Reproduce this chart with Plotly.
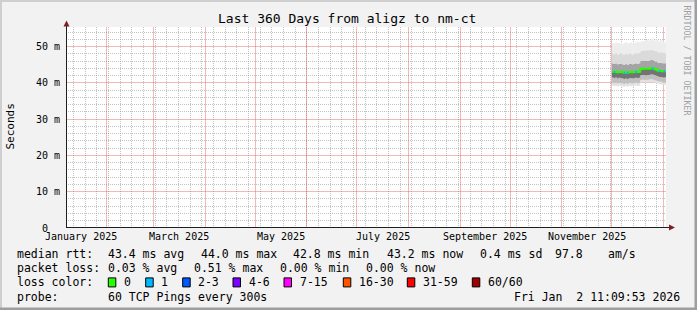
import plotly.graph_objects as go

# ---------------- data ----------------
start_time = "2025-01-07 11:09:53"
end_time = "2026-01-02 11:09:53"

days = ["2025-12-01", "2025-12-02", "2025-12-03", "2025-12-04", "2025-12-05", "2025-12-06",
        "2025-12-07", "2025-12-08", "2025-12-09", "2025-12-10", "2025-12-11", "2025-12-12",
        "2025-12-13", "2025-12-14", "2025-12-15", "2025-12-16", "2025-12-17", "2025-12-18",
        "2025-12-19", "2025-12-20", "2025-12-21", "2025-12-22", "2025-12-23", "2025-12-24",
        "2025-12-25", "2025-12-26", "2025-12-27", "2025-12-28", "2025-12-29", "2025-12-30",
        "2025-12-31", "2026-01-01", "2026-01-02"]

median = [43.1, 43.0, 43.1, 42.9, 43.0, 43.0, 42.9, 42.8, 42.9, 42.8, 43.0, 43.0, 42.9, 43.0,
          43.1, 43.0, 43.1, 43.8, 43.9, 43.9, 43.9, 43.9, 43.9, 44.0, 44.0, 43.9, 43.7, 43.5,
          43.3, 43.3, 43.2, 43.2, 43.2]
loss = [0, 1, 0, 0, 0, 0, 0, 1, 0, 1, 0, 0, 0, 0, 1, 0, 0, 0, 0, 0, 0, 0, 0, 0, 1, 0, 0, 0,
        1, 0, 0, 1, 0]

smoke_max = [51.0, 50.8, 51.2, 50.9, 51.0, 51.1, 50.7, 51.0, 51.3, 50.9, 51.0, 51.2, 50.8, 51.0,
             51.1, 51.5, 51.2, 51.4, 51.6, 51.5, 51.8, 52.0, 51.6, 51.9, 52.3, 51.7, 52.0, 51.8,
             51.5, 51.8, 51.6, 51.4, 51.0]
smoke_p90 = [48.1, 47.9, 48.2, 47.8, 48.0, 48.1, 47.9, 47.8, 48.0, 47.9, 48.1, 48.0, 47.8, 48.0,
             48.2, 48.1, 48.2, 48.8, 48.9, 49.0, 48.9, 49.1, 49.0, 49.2, 49.1, 48.9, 48.8, 48.6,
             48.4, 48.5, 48.3, 48.2, 48.1]
smoke_p75 = [45.4, 45.2, 45.4, 45.1, 45.3, 45.3, 45.1, 45.0, 45.2, 45.0, 45.3, 45.2, 45.1, 45.3,
             45.4, 45.3, 45.4, 46.0, 46.2, 46.1, 46.2, 46.1, 46.2, 46.3, 46.3, 46.1, 45.9, 45.7,
             45.5, 45.6, 45.4, 45.4, 45.4]
smoke_p25 = [41.5, 41.3, 41.5, 41.2, 41.4, 41.3, 41.2, 41.1, 41.2, 41.0, 41.3, 41.3, 41.2, 41.3,
             41.4, 41.3, 41.4, 42.1, 42.2, 42.2, 42.1, 42.2, 42.2, 42.3, 42.3, 42.2, 42.0, 41.8,
             41.6, 41.6, 41.5, 41.5, 41.5]
smoke_p10 = [40.1, 39.9, 40.0, 39.8, 40.0, 39.9, 39.8, 39.7, 39.9, 39.7, 40.0, 39.9, 39.8, 40.0,
             40.1, 39.9, 40.0, 40.8, 40.9, 40.8, 40.9, 40.8, 40.9, 41.0, 40.9, 40.8, 40.6, 40.5,
             40.3, 40.3, 40.2, 40.2, 40.1]
smoke_min = [39.3, 39.1, 39.2, 39.0, 39.2, 39.1, 39.0, 38.9, 39.1, 38.9, 39.2, 39.1, 39.0, 39.2,
             39.3, 39.1, 39.2, 40.0, 40.2, 40.1, 40.2, 40.1, 40.2, 40.3, 40.2, 40.1, 39.9, 39.8,
             39.6, 39.6, 39.5, 39.5, 39.4]

x_labels = ["January 2025", "March 2025", "May 2025", "July 2025", "September 2025", "November 2025"]
x_label_pos = ["2025-01-16 12:00", "2025-03-16 12:00", "2025-05-16 12:00", "2025-07-16 12:00",
               "2025-09-16 00:00", "2025-11-16 00:00"]
y_ticks = [0, 10, 20, 30, 40, 50]
y_ticktext = ["0  ", "10 m", "20 m", "30 m", "40 m", "50 m"]

rtt_stats = [43.4, 44.0, 42.8, 43.2]     # avg, max, min, now (ms)
rtt_sd = 0.4
rtt_ams = 97.8
loss_stats = [0.03, 0.51, 0.00, 0.00]    # avg, max, min, now (%)
loss_labels = ["0", "1", "2-3", "4-6", "7-15", "16-30", "31-59", "60/60"]
loss_colors = ["#26ff00", "#00b8ff", "#0059ff", "#7e00ff", "#ff00ff", "#ff5500", "#ff0000", "#a10000"]

# ---------------- geometry ----------------
W, H = 697, 310
PL, PR, PT, PB = 66, 666, 27, 228
Y_MAX = 55.4
MONO = "DejaVu Sans Mono"


def px(x):
    return (x - PL) / (PR - PL)


def py(y):
    return (PB - y) / (PB - PT)


def nb(s):
    return s.replace(" ", "\u00a0")


x_edges = days + [end_time]


def step(v):
    return v + [v[-1]]


fig = go.Figure()

# smoke bands
bands = [(smoke_min, None), (smoke_p10, "#e2e2e2"), (smoke_p25, "#c0c0c0"), (median, "#747474"),
         (smoke_p75, "#a4a4a4"), (smoke_p90, "#dadada"), (smoke_max, "#ededed")]
for vals, col in bands:
    fig.add_trace(go.Scatter(x=x_edges, y=step(vals), mode="lines", line=dict(width=0, shape="hv"),
                             fill="tonexty" if col else None, fillcolor=col, hoverinfo="skip"))

# median line coloured by loss
fig.add_trace(go.Scatter(x=x_edges, y=step(median), mode="lines",
                         line=dict(width=2, shape="hv", color=loss_colors[0]), hoverinfo="skip"))
for lvl in range(1, len(loss_colors)):
    sx, sy = [], []
    for i, l in enumerate(loss):
        if l == lvl:
            sx += [x_edges[i], x_edges[i + 1], None]
            sy += [median[i], median[i], None]
    if sx:
        fig.add_trace(go.Scatter(x=sx, y=sy, mode="lines", line=dict(width=2, color=loss_colors[lvl]),
                                 hoverinfo="skip"))

# invisible trace to instantiate the overlay axis carrying the monthly grid
fig.add_trace(go.Scatter(x=[end_time], y=[0], xaxis="x2", mode="markers",
                         marker=dict(opacity=0), hoverinfo="skip"))

grid_minor = "rgba(143,143,143,0.55)"
grid_major = "rgba(222,79,79,0.4)"

fig.update_layout(
    width=W, height=H, margin=dict(l=PL, r=W - PR, t=PT, b=H - PB),
    paper_bgcolor="#f2f2f2", plot_bgcolor="#ffffff", showlegend=False,
    font=dict(family=MONO, size=10, color="#000000"),
    xaxis=dict(type="date", range=[start_time, end_time], showgrid=True, dtick=7 * 86400000,
               tick0="2025-01-05", gridcolor=grid_minor, griddash="1px,1px", gridwidth=1,
               showticklabels=False, ticks="", zeroline=False, showline=False, fixedrange=True),
    xaxis2=dict(type="date", range=[start_time, end_time], overlaying="x", anchor="y", side="bottom",
                showgrid=True, dtick="M1", tick0="2025-01-01", gridcolor=grid_major,
                griddash="solid", gridwidth=1, showticklabels=False, ticks="", zeroline=False,
                showline=False, fixedrange=True),
    yaxis=dict(range=[0, Y_MAX], dtick=10, tick0=0, showgrid=True, gridcolor=grid_major,
               griddash="solid", gridwidth=1, showticklabels=False, ticks="", zeroline=False,
               showline=False, fixedrange=True,
               minor=dict(dtick=2, showgrid=True, gridcolor=grid_minor, griddash="1px,1px",
                          gridwidth=1, ticks="")),
)

shapes = []
# frame (3D border)
shapes.append(dict(type="rect", xref="paper", yref="paper", x0=px(0), x1=px(W), y0=py(0), y1=py(2),
                   fillcolor="#cfcfcf", line=dict(width=0), layer="above"))
shapes.append(dict(type="rect", xref="paper", yref="paper", x0=px(0), x1=px(2), y0=py(0), y1=py(H),
                   fillcolor="#cfcfcf", line=dict(width=0), layer="above"))
shapes.append(dict(type="rect", xref="paper", yref="paper", x0=px(W - 2.5), x1=px(W), y0=py(0), y1=py(H),
                   fillcolor="#9e9e9e", line=dict(width=0), layer="above"))
shapes.append(dict(type="rect", xref="paper", yref="paper", x0=px(0), x1=px(W), y0=py(H - 2.5), y1=py(H),
                   fillcolor="#9e9e9e", line=dict(width=0), layer="above"))
# axes
shapes.append(dict(type="line", xref="paper", yref="paper", x0=px(66.5), x1=px(66.5), y0=py(228), y1=py(25),
                   line=dict(color="#1f1f1f", width=1), layer="above"))
shapes.append(dict(type="line", xref="paper", yref="paper", x0=px(66), x1=px(670), y0=py(227.5), y1=py(227.5),
                   line=dict(color="#1f1f1f", width=1), layer="above"))
# arrows
shapes.append(dict(type="path", xref="paper", yref="paper",
                   path=f"M {px(63.5)} {py(26.5)} L {px(69.5)} {py(26.5)} L {px(66.5)} {py(20.5)} Z",
                   fillcolor="#801f1f", line=dict(width=0), layer="above"))
shapes.append(dict(type="path", xref="paper", yref="paper",
                   path=f"M {px(669)} {py(224.5)} L {px(669)} {py(230.5)} L {px(675)} {py(227.5)} Z",
                   fillcolor="#801f1f", line=dict(width=0), layer="above"))

annotations = []


def text(s, x, y, size=11.5, anchor="left", color="#000000", angle=0, xref="paper", yref="paper"):
    annotations.append(dict(text=nb(s), x=x, y=y, xref=xref, yref=yref, xanchor=anchor, yanchor="middle",
                            showarrow=False, borderpad=0, textangle=angle,
                            font=dict(family=MONO, size=size, color=color)))


# title
text("Last 360 Days from aligz to nm-ct", px(347), py(19), size=13, anchor="center")
# y label
text("Seconds", px(10), py(126.5), size=11, anchor="center", angle=-90)
# watermark
text("RRDTOOL / TOBI OETIKER", px(686.5), py(60), size=8.3, anchor="center", color="#a0a0a0", angle=90)
# y tick labels
for v, tt in zip(y_ticks, y_ticktext):
    annotations.append(dict(text=nb(tt), x=px(60.5), y=v, xref="paper", yref="y", xanchor="right",
                            yanchor="middle", showarrow=False, borderpad=0,
                            font=dict(family=MONO, size=10, color="#000000")))
# x labels
for lab, pos in zip(x_labels, x_label_pos):
    annotations.append(dict(text=nb(lab), x=pos, y=py(237), xref="x", yref="paper", xanchor="center",
                            yanchor="middle", showarrow=False, borderpad=0,
                            font=dict(family=MONO, size=10, color="#000000")))

# legend rows
r1, r2, r3, r4 = 254, 268.3, 282.4, 296.6
text("median rtt:", px(15.5), py(r1))
row1 = [(f"{rtt_stats[0]:.1f} ms avg", 107), (f"{rtt_stats[1]:.1f} ms max", 199.5),
        (f"{rtt_stats[2]:.1f} ms min", 292.2), (f"{rtt_stats[3]:.1f} ms now", 385.5),
        (f"{rtt_sd:.1f} ms sd", 479), (f"{rtt_ams:.1f}", 553.5), ("am/s", 607.2)]
for s, x in row1:
    text(s, px(x), py(r1))
text("packet loss:", px(15.5), py(r2))
row2 = [(f"{loss_stats[0]:.2f} % avg", 107), (f"{loss_stats[1]:.2f} % max", 193),
        (f"{loss_stats[2]:.2f} % min", 279), (f"{loss_stats[3]:.2f} % now", 364.7)]
for s, x in row2:
    text(s, px(x), py(r2))
text("loss color:", px(15.5), py(r3))
box_x = [108.3, 145.7, 182.7, 233, 284, 343.3, 407.3, 472.3]
for bx, lab, col in zip(box_x, loss_labels, loss_colors):
    shapes.append(dict(type="rect", xref="paper", yref="paper", x0=px(bx), x1=px(bx + 7.5),
                       y0=py(r3 - 4.5), y1=py(r3 + 4.5), fillcolor=col,
                       line=dict(color="#000000", width=1), layer="above"))
    text(lab, px(bx + 14.7), py(r3))
text("probe:", px(15.5), py(r4))
text("60 TCP Pings every 300s", px(107), py(r4))
text("Fri Jan  2 11:09:53 2026", px(680.5), py(r4), anchor="right")

fig.update_layout(shapes=shapes, annotations=annotations)
fig.write_html("out.html")
